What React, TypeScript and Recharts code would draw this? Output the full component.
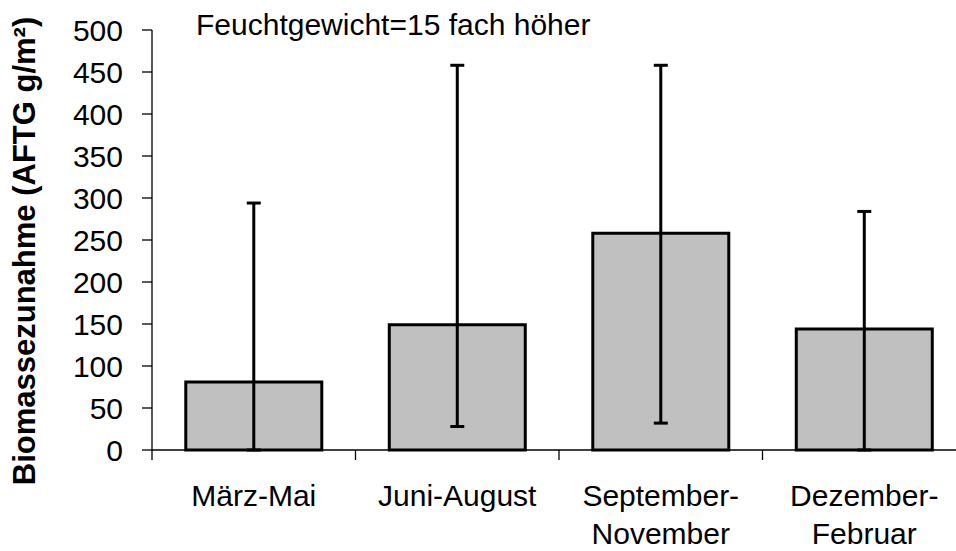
import { BarChart, Bar, XAxis, YAxis, ErrorBar } from "recharts";

const categories = ["März-Mai", "Juni-August", "September-\nNovember", "Dezember-\nFebruar"];
const means = [81, 149, 258, 144];
const upperBounds = [294, 458, 458, 284];
const lowerBounds = [0, 28, 32, 0];
const yTicks = [0, 50, 100, 150, 200, 250, 300, 350, 400, 450, 500];

const data = categories.map((name, i) => ({
  name,
  value: means[i],
  err: [means[i] - lowerBounds[i], upperBounds[i] - means[i]],
}));

const CHART_W = 970;
const CHART_H = 551;
const Y_AXIS_W = 152;
const MARGIN = { top: 30, right: 4, bottom: 0, left: 0 };
const HALF_BAND = (CHART_W - Y_AXIS_W - MARGIN.right) / categories.length / 2;

const CategoryTick = (props: any) => {
  const { x, y, payload, index } = props;
  const lines = String(payload.value).split("\n");
  return (
    <g>
      <line x1={x - HALF_BAND} x2={x - HALF_BAND} y1={y} y2={y + 10} stroke="#000" strokeWidth={1.3} />
      {index === categories.length - 1 && (
        <line x1={x + HALF_BAND} x2={x + HALF_BAND} y1={y} y2={y + 10} stroke="#000" strokeWidth={1.3} />
      )}
      <text x={x} y={y + 56} textAnchor="middle" fontSize={30} fill="#000">
        {lines.map((l, i) => (
          <tspan key={i} x={x} dy={i === 0 ? 0 : 38}>
            {l}
          </tspan>
        ))}
      </text>
    </g>
  );
};

const YLabel = () => (
  <text
    x={35}
    y={251}
    transform="rotate(-90, 35, 251)"
    textAnchor="middle"
    fontSize={31}
    fontWeight="bold"
    fill="#000"
  >
    Biomassezunahme (AFTG g/m²)
  </text>
);

export default function App() {
  return (
    <div
      style={{
        position: "absolute",
        left: 0,
        top: 0,
        width: 956,
        height: 551,
        overflow: "hidden",
        background: "#fff",
        fontFamily: "'Liberation Sans', Arial, sans-serif",
      }}
    >
      <BarChart width={CHART_W} height={CHART_H} data={data} margin={MARGIN} barCategoryGap="16.6%">
        <XAxis
          dataKey="name"
          height={CHART_H - 450}
          axisLine={{ stroke: "#000", strokeWidth: 1.3 }}
          tickLine={false}
          tickSize={0}
          tickMargin={0}
          tick={<CategoryTick />}
          interval={0}
        />
        <YAxis
          width={Y_AXIS_W}
          domain={[0, 500]}
          ticks={yTicks}
          interval={0}
          axisLine={{ stroke: "#000", strokeWidth: 1.3 }}
          tickLine={{ stroke: "#000", strokeWidth: 1.3 }}
          tickSize={10}
          tickMargin={19}
          tick={{ fill: "#000", fontSize: 30 }}
          label={<YLabel />}
        />
        <Bar dataKey="value" fill="#c0c0c0" stroke="#000" strokeWidth={3} isAnimationActive={false}>
          <ErrorBar dataKey="err" stroke="#000" strokeWidth={3} width={7} isAnimationActive={false} />
        </Bar>
      </BarChart>
      <div
        style={{
          position: "absolute",
          left: 196,
          top: 10,
          fontSize: 30,
          lineHeight: "30px",
          color: "#000",
          whiteSpace: "nowrap",
        }}
      >
        Feuchtgewicht=15 fach höher
      </div>
    </div>
  );
}
